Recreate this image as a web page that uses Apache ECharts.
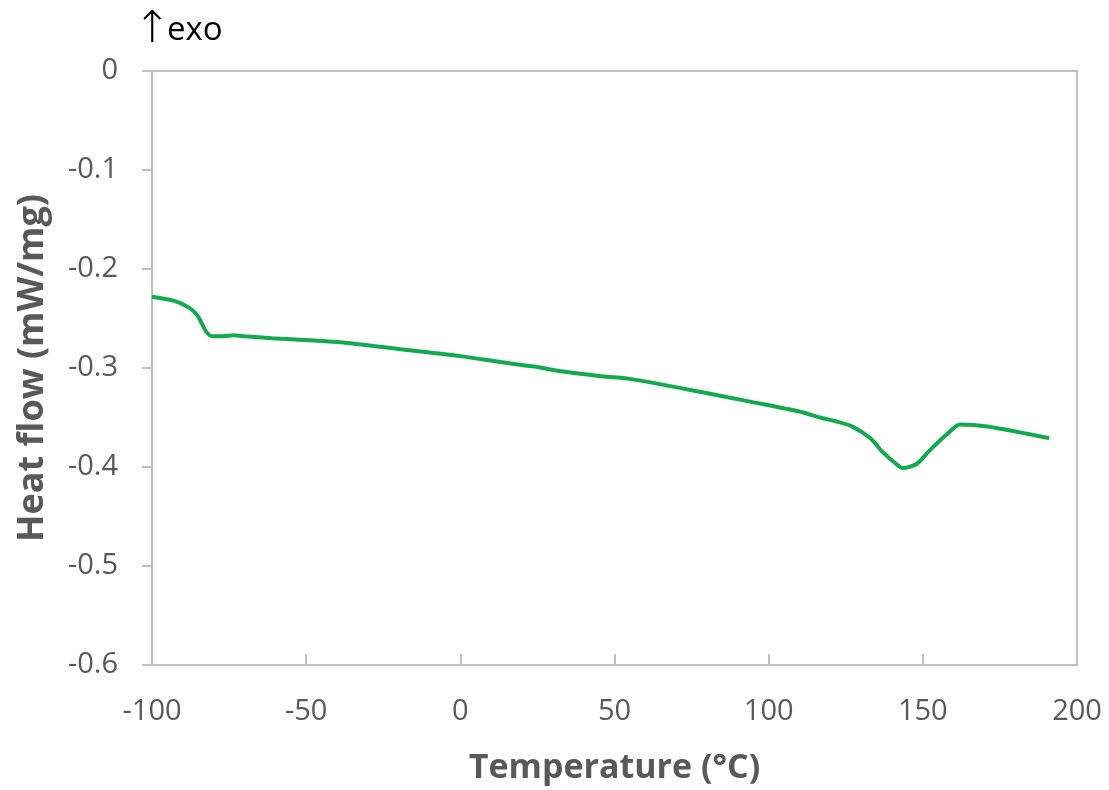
<!DOCTYPE html>
<html>
<head>
<meta charset="utf-8">
<script src="https://cdn.jsdelivr.net/npm/echarts@6/dist/echarts.min.js"></script>
<style>
html,body{margin:0;padding:0;background:#fff;}
#chart{width:1109px;height:790px;}
</style>
</head>
<body>
<div id="chart"></div>
<script>
const temperature = [-100, -93, -88, -85.5, -84, -82.5, -80.5, -77, -73.5, -70, -61, -39, -19.6, 0, 12.8, 25, 32, 45, 55, 77.7, 94, 110, 116.6, 122, 127, 133, 137, 141, 143.5, 148, 152, 157.8, 162, 171, 181.5, 191];
const heatFlow = [-0.228, -0.232, -0.239, -0.246, -0.254, -0.263, -0.268, -0.268, -0.267, -0.268, -0.270, -0.274, -0.281, -0.288, -0.294, -0.299, -0.303, -0.308, -0.311, -0.324, -0.334, -0.344, -0.350, -0.354, -0.359, -0.371, -0.385, -0.396, -0.401, -0.397, -0.384, -0.367, -0.357, -0.359, -0.365, -0.371];
const xTitle = 'Temperature (°C)';
const yTitle = 'Heat flow (mW/mg)';
const arrowText = '↑';
const exoText = 'exo';

const points = temperature.map((t, i) => [t, heatFlow[i]]);
const chart = echarts.init(document.getElementById('chart'), null, {renderer: 'canvas'});
const gray = '#595959';
const axisGray = '#bfbfbf';
chart.setOption({
  animation: false,
  backgroundColor: '#ffffff',
  grid: {left: 152, right: 32, top: 71, bottom: 123, show: true, borderColor: axisGray, borderWidth: 2, backgroundColor: 'transparent'},
  graphic: [{
    type: 'text', left: 134, top: 7,
    style: {text: arrowText, font: '300 44px "Noto Sans", "DejaVu Sans", sans-serif', fill: '#000'}
  }, {
    type: 'text', left: 167, top: 14,
    style: {text: exoText, font: '33px "Open Sans", sans-serif', fill: '#000'}
  }],
  xAxis: {
    type: 'value', min: -100, max: 200, interval: 50,
    name: xTitle, nameLocation: 'middle', nameGap: 86,
    nameTextStyle: {fontFamily: 'Open Sans', fontWeight: 'bold', fontSize: 34, color: gray},
    axisLine: {show: true, onZero: false, lineStyle: {color: axisGray, width: 2}},
    axisTick: {show: true, inside: true, length: 11, lineStyle: {color: axisGray, width: 2}},
    axisLabel: {fontFamily: 'Open Sans', fontSize: 29, color: gray, margin: 32},
    splitLine: {show: false}
  },
  yAxis: {
    type: 'value', min: -0.6, max: 0, interval: 0.1,
    name: yTitle, nameLocation: 'middle', nameGap: 101,
    nameTextStyle: {fontFamily: 'Open Sans', fontWeight: 'bold', fontSize: 36, color: gray},
    axisLine: {show: true, onZero: false, lineStyle: {color: axisGray, width: 2}},
    axisTick: {show: true, inside: false, length: 10, lineStyle: {color: axisGray, width: 2}},
    axisLabel: {fontFamily: 'Open Sans', fontSize: 29, color: gray, margin: 34,
      formatter: v => (Math.round(v * 10) / 10).toString()},
    splitLine: {show: false}
  },
  series: [{
    type: 'line', data: points, showSymbol: false, smooth: 0.25,
    lineStyle: {color: '#12a94f', width: 4},
    itemStyle: {color: '#12a94f'}
  }]
});
</script>
</body>
</html>
